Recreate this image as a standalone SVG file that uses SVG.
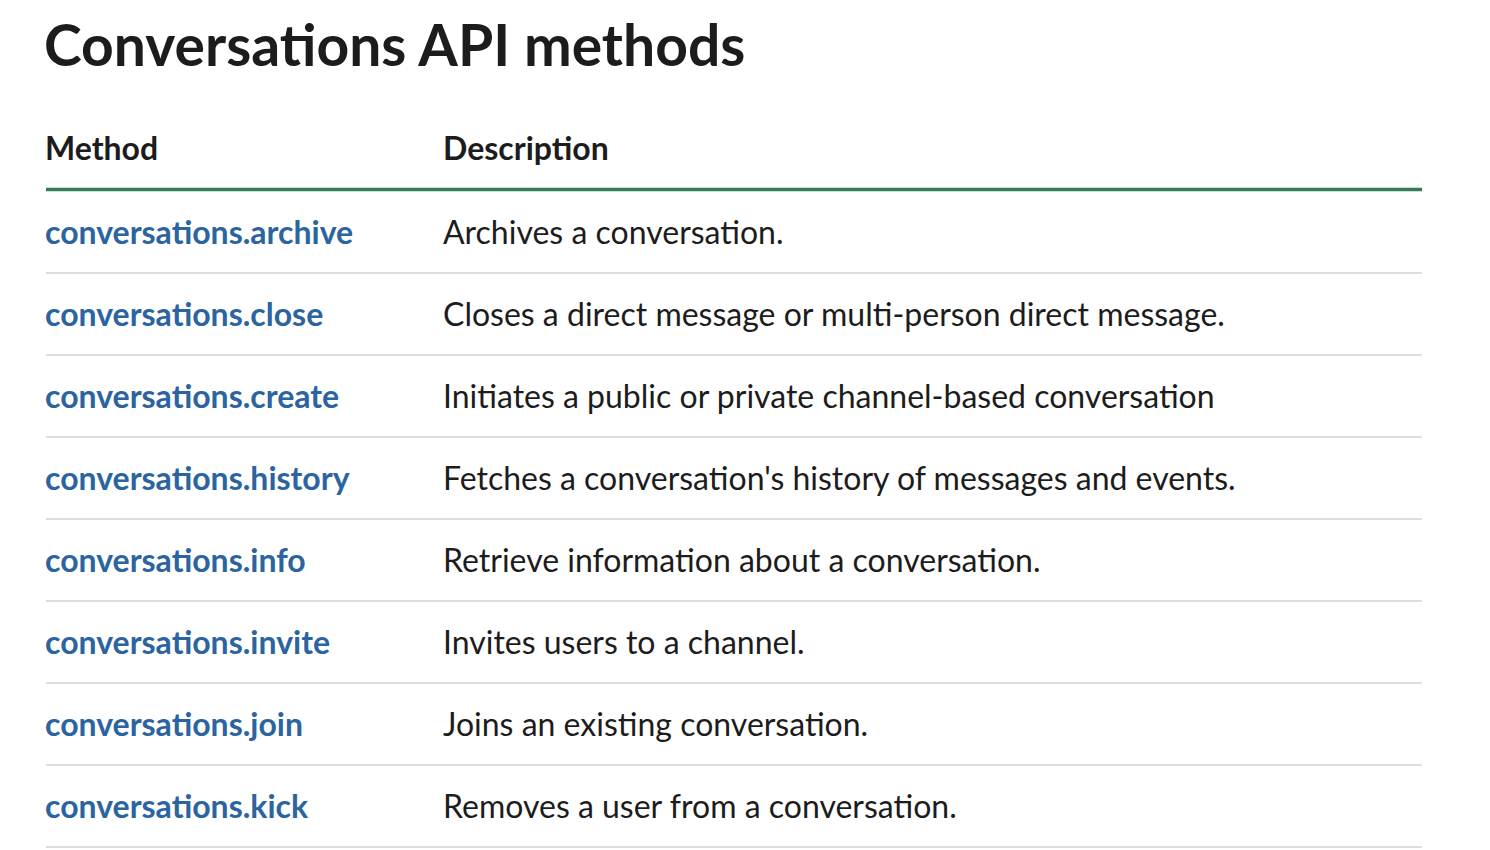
<svg xmlns="http://www.w3.org/2000/svg" width="1490" height="850" viewBox="0 0 1490 850">
<style>
text{font-family:Lato,"Noto Sans",sans-serif}
.title{font-size:57px;font-weight:700;fill:#1d1c1d}
.hdr{font-size:32px;font-weight:700;fill:#1d1c1d}
.m{font-size:32px;font-weight:700;fill:#2b64a0}
.d{font-size:32px;font-weight:400;fill:#1d1c1d}
.sep{stroke:#dddddd;stroke-width:2}
</style>
<rect width="1490" height="850" fill="#ffffff"/>
<text class="title" x="44" y="66">Conversations API methods</text>
<g id="header">
<text class="hdr" x="45" y="160">Method</text>
<text class="hdr" x="443" y="160">Description</text>
<line x1="46" y1="189.5" x2="1422" y2="189.5" stroke="#357a5a" stroke-width="3.5"/>
</g>
<g id="row1"><text class="m" x="45" y="244">conversations.archive</text><text class="d" x="443" y="244">Archives a conversation.</text><line class="sep" x1="46" y1="273" x2="1422" y2="273"/></g>
<g id="row2"><text class="m" x="45" y="326">conversations.close</text><text class="d" x="443" y="326">Closes a direct message or multi-person direct message.</text><line class="sep" x1="46" y1="355" x2="1422" y2="355"/></g>
<g id="row3"><text class="m" x="45" y="408">conversations.create</text><text class="d" x="443" y="408">Initiates a public or private channel-based conversation</text><line class="sep" x1="46" y1="437" x2="1422" y2="437"/></g>
<g id="row4"><text class="m" x="45" y="490">conversations.history</text><text class="d" x="443" y="490">Fetches a conversation's history of messages and events.</text><line class="sep" x1="46" y1="519" x2="1422" y2="519"/></g>
<g id="row5"><text class="m" x="45" y="572">conversations.info</text><text class="d" x="443" y="572">Retrieve information about a conversation.</text><line class="sep" x1="46" y1="601" x2="1422" y2="601"/></g>
<g id="row6"><text class="m" x="45" y="654">conversations.invite</text><text class="d" x="443" y="654">Invites users to a channel.</text><line class="sep" x1="46" y1="683" x2="1422" y2="683"/></g>
<g id="row7"><text class="m" x="45" y="736">conversations.join</text><text class="d" x="443" y="736">Joins an existing conversation.</text><line class="sep" x1="46" y1="765" x2="1422" y2="765"/></g>
<g id="row8"><text class="m" x="45" y="818">conversations.kick</text><text class="d" x="443" y="818">Removes a user from a conversation.</text><line class="sep" x1="46" y1="847" x2="1422" y2="847"/></g>
</svg>
